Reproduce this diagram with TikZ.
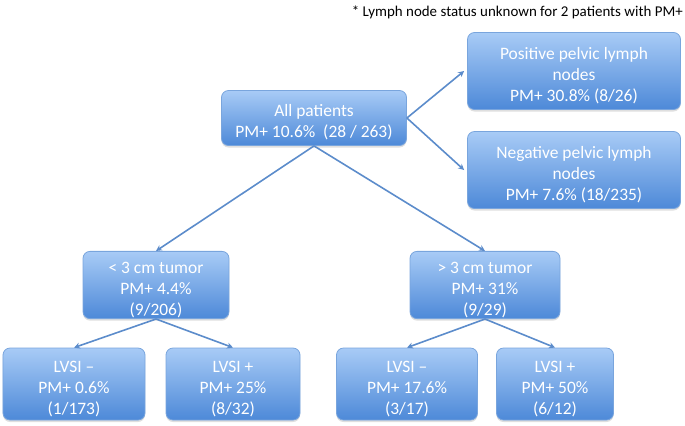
\documentclass[tikz,border=0pt]{standalone}
\usepackage{fontspec}
\setmainfont{Carlito}
\usetikzlibrary{arrows.meta,shadows}

\definecolor{boxtop}{HTML}{A8CBF6}
\definecolor{boxbot}{HTML}{4D89D8}
\definecolor{boxline}{HTML}{79A5DD}
\definecolor{arrcol}{HTML}{5C8CCB}

% extra room above the first line, as in the original slide
\newcommand{\topgap}{\rule{0pt}{21bp}}

\begin{document}
\begin{tikzpicture}[
  x=1bp, y=-1bp,
  box/.style={rectangle, rounded corners=7bp, draw=boxline, line width=0.8bp,
    top color=boxtop, bottom color=boxbot, text=white, align=center,
    inner sep=1bp, font=\fontsize{17.5}{21}\selectfont,
    drop shadow={opacity=0.25, shadow xshift=0bp, shadow yshift=-2bp}},
  e/.style={-{Stealth[length=6bp,width=6bp]}, arrcol, line width=1.6bp},
  note/.style={font=\fontsize{15}{21}\selectfont, inner sep=0pt}
]
\useasboundingbox (0,0) rectangle (685,425);

% --- footnote ---
\node[note, anchor=east] (fn) at (683,12) {* Lymph node status unknown for 2 patients with PM+};

% --- top level ---
\node[box, minimum width=185bp, minimum height=55bp] (allpat) at (314,118)
  {\topgap All patients\\PM+ 10.6\%~ (28 / 263)};

% --- lymph node split ---
\node[box, minimum width=213bp, minimum height=77bp] (pospel) at (574,71)
  {\topgap Positive pelvic lymph\\nodes\\PM+ 30.8\% (8/26)};
\node[box, minimum width=213bp, minimum height=77bp] (negpel) at (574,170)
  {\topgap Negative pelvic lymph\\nodes\\PM+ 7.6\% (18/235)};

% --- tumor size split ---
\node[box, minimum width=146bp, minimum height=65bp] (small) at (156,285)
  {\topgap < 3 cm tumor\\PM+ 4.4\%\\(9/206)};
\node[box, minimum width=150bp, minimum height=64bp] (large) at (485,285)
  {\topgap > 3 cm tumor\\PM+ 31\%\\(9/29)};

% --- LVSI split ---
\node[box, minimum width=142bp, minimum height=72bp] (smneg) at (74,384)
  {\topgap LVSI –\\PM+ 0.6\%\\(1/173)};
\node[box, minimum width=134bp, minimum height=72bp] (smpos) at (233,384)
  {\topgap LVSI +\\PM+ 25\%\\(8/32)};
\node[box, minimum width=141bp, minimum height=72bp] (lgneg) at (407,384)
  {\topgap LVSI –\\PM+ 17.6\%\\(3/17)};
\node[box, minimum width=117bp, minimum height=72bp] (lgpos) at (555,384)
  {\topgap LVSI +\\PM+ 50\%\\(6/12)};

% --- edges ---
\draw[e] (allpat.east) -- ([xshift=-3bp]pospel.west);
\draw[e] (allpat.east) -- ([xshift=-3bp]negpel.west);
\draw[e] (allpat.south) -- (small.north);
\draw[e] (allpat.south) -- (large.north);
\draw[e] (small.south) -- (smneg.north);
\draw[e] (small.south) -- (smpos.north);
\draw[e] (large.south) -- (lgneg.north);
\draw[e] (large.south) -- (lgpos.north);

\end{tikzpicture}
\end{document}
